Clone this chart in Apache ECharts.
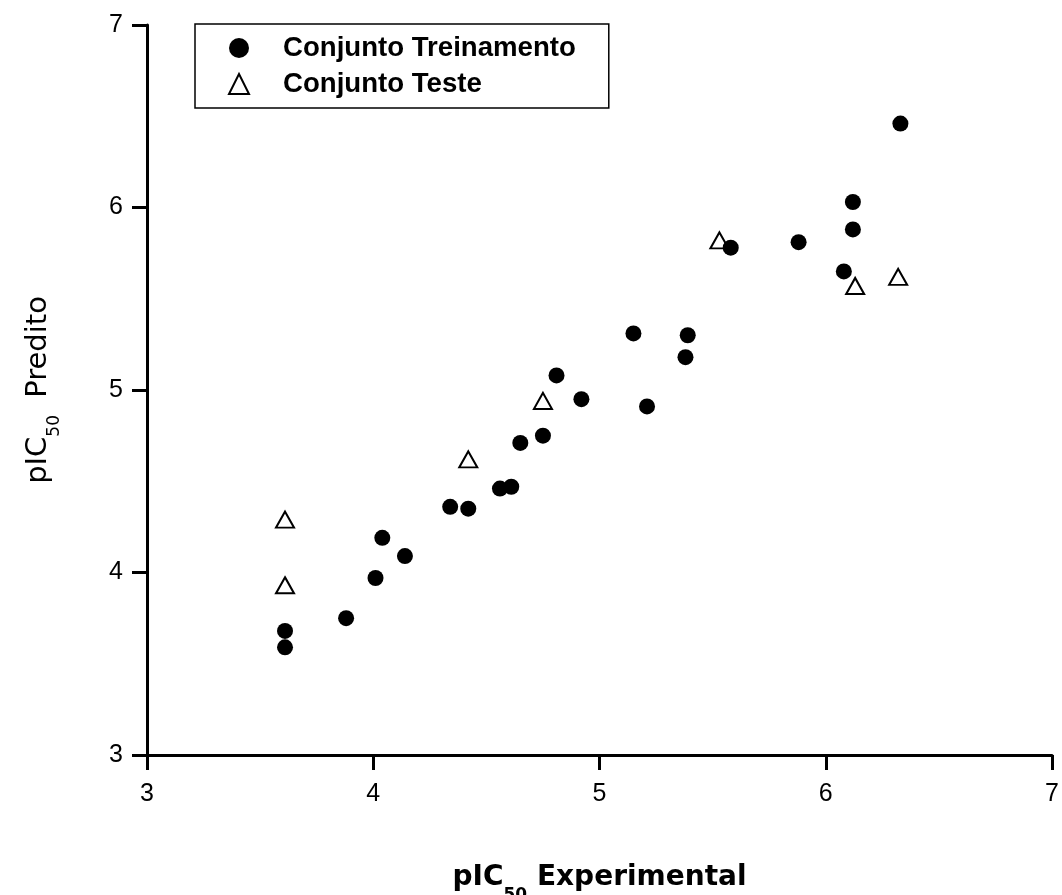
<!DOCTYPE html>
<html>
<head>
<meta charset="utf-8">
<script src="https://cdn.jsdelivr.net/npm/echarts@6/dist/echarts.min.js"></script>
<style>html,body{margin:0;padding:0;background:#fff}#c{width:1062px;height:895px}</style>
</head>
<body>
<div id="c"></div>
<script>
// Data
const trainX = [3.61, 3.61, 3.88, 4.01, 4.04, 4.14, 4.34, 4.42, 4.56, 4.61, 4.65, 4.75, 4.81, 4.92, 5.21, 5.15, 5.39, 5.38, 5.58, 5.88, 6.08, 6.12, 6.12, 6.33];
const trainY = [3.68, 3.59, 3.75, 3.97, 4.19, 4.09, 4.36, 4.35, 4.46, 4.47, 4.71, 4.75, 5.08, 4.95, 4.91, 5.31, 5.30, 5.18, 5.78, 5.81, 5.65, 5.88, 6.03, 6.46];
const testX = [3.61, 3.61, 4.42, 4.75, 5.53, 6.13, 6.32];
const testY = [4.29, 3.93, 4.62, 4.94, 5.82, 5.57, 5.62];
const xTicks = [3, 4, 5, 6, 7];
const yTicks = [3, 4, 5, 6, 7];
const seriesNames = ['Conjunto Treinamento', 'Conjunto Teste'];

const FONT = 'Liberation Sans, Arial, sans-serif';
const TFONT = 'DejaVu Sans, sans-serif';
const zip = (a, b) => a.map((v, i) => [v, b[i]]);

const chart = echarts.init(document.getElementById('c'), null, {renderer: 'canvas'});
const axisCommon = {
  type: 'value',
  interval: 1,
  splitLine: {show: false},
  axisLine: {show: true, onZero: false, lineStyle: {color: '#000', width: 3}},
  axisTick: {show: true, inside: false, length: 15, lineStyle: {color: '#000', width: 3}},
  axisLabel: {color: '#000', fontFamily: FONT, fontSize: 25}
};
chart.setOption({
  animation: false,
  backgroundColor: '#fff',
  grid: {left: 147, right: 10, top: 25, bottom: 140, containLabel: false, outerBoundsMode: 'none'},
  legend: {
    orient: 'vertical',
    left: 195, top: 24,
    data: seriesNames,
    itemWidth: 20, itemHeight: 20, itemGap: 6,
    padding: [9, 33, 9, 33],
    borderColor: '#000', borderWidth: 1.5,
    backgroundColor: '#fff',
    textStyle: {fontFamily: FONT, fontSize: 27.6, fontWeight: 'bold', color: '#000', lineHeight: 30, padding: [0, 0, 0, 29]}
  },
  xAxis: Object.assign({}, axisCommon, {
    min: xTicks[0], max: xTicks[xTicks.length - 1],
    axisLabel: Object.assign({}, axisCommon.axisLabel, {margin: 27}),
    name: '{a|pIC}{s|50}{a| Experimental}',
    nameLocation: 'middle',
    nameGap: 109,
    nameTextStyle: {
      fontFamily: TFONT, color: '#000',
      rich: {
        a: {fontFamily: TFONT, fontSize: 28, fontWeight: 'bold', color: '#000', verticalAlign: 'top'},
        s: {fontFamily: TFONT, fontSize: 17, fontWeight: 'bold', color: '#000', verticalAlign: 'top', padding: [23, 0, 0, 0]}
      }
    }
  }),
  yAxis: Object.assign({}, axisCommon, {
    min: yTicks[0], max: yTicks[yTicks.length - 1],
    axisLabel: Object.assign({}, axisCommon.axisLabel, {margin: 24}),
    name: '{a|pIC}{s|50}{a| Predito}',
    nameLocation: 'middle',
    nameRotate: 90,
    nameGap: 84,
    nameTextStyle: {
      fontFamily: TFONT, color: '#000',
      rich: {
        a: {fontFamily: TFONT, fontSize: 29, color: '#000', verticalAlign: 'top'},
        s: {fontFamily: TFONT, fontSize: 17, color: '#000', verticalAlign: 'top', padding: [22.5, 8, 0, 0]}
      }
    }
  }),
  series: [
    {
      name: seriesNames[1], type: 'scatter', symbol: 'triangle', symbolSize: [18, 16],
      itemStyle: {color: '#fff', borderColor: '#000', borderWidth: 2, opacity: 1},
      data: zip(testX, testY), z: 2
    },
    {
      name: seriesNames[0], type: 'scatter', symbol: 'circle', symbolSize: 16,
      itemStyle: {color: '#000', opacity: 1},
      data: zip(trainX, trainY), z: 3
    }
  ]
});
</script>
</body>
</html>
